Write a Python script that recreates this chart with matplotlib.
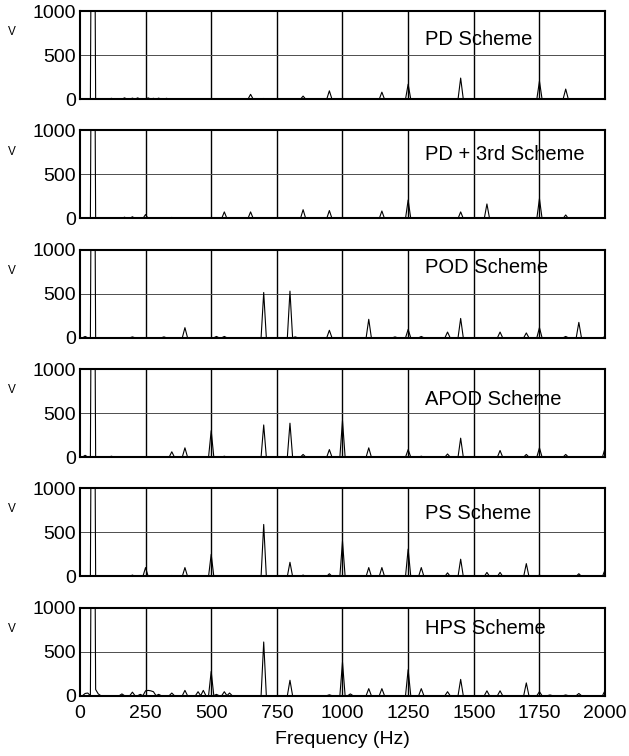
import numpy as np
import matplotlib.pyplot as plt

plt.rcParams['font.family'] = ['Liberation Sans', 'DejaVu Sans']

# spectrum bins (Hz) and peak readings per modulation scheme
freq_step = 10
freq_max = 2000

schemes = ['PD Scheme', 'PD + 3rd Scheme', 'POD Scheme', 'APOD Scheme', 'PS Scheme', 'HPS Scheme']

pd_f = [50, 120, 170, 200, 220, 260, 280, 300, 330, 650, 700, 850, 950, 1150, 1250, 1450, 1750, 1850]
pd_a = [6000, 10, 15, 12, 15, 15, 10, 12, 10, 55, 8, 35, 95, 80, 170, 240, 205, 115]

pd3_f = [50, 170, 200, 250, 300, 350, 550, 650, 850, 950, 1080, 1150, 1250, 1450, 1550, 1750, 1850]
pd3_a = [6000, 15, 20, 45, 10, 12, 75, 75, 100, 90, 5, 85, 210, 75, 165, 225, 40]

pod_f = [20, 50, 200, 320, 400, 520, 550, 700, 800, 820, 950, 1100, 1200, 1250, 1300, 1400, 1450, 1600,
         1700, 1750, 1850, 1900, 2000]
pod_a = [15, 6000, 10, 10, 115, 15, 15, 515, 530, 10, 85, 210, 10, 95, 15, 65, 220, 65,
         55, 115, 15, 175, 15]

apod_f = [20, 50, 120, 350, 400, 500, 550, 700, 800, 850, 950, 1000, 1100, 1250, 1300, 1400, 1450, 1600,
          1700, 1750, 1850, 2000]
apod_a = [20, 6000, 10, 60, 105, 300, 10, 365, 385, 30, 85, 415, 105, 85, 10, 35, 215, 75,
          30, 105, 30, 105]

ps_f = [20, 50, 200, 250, 300, 350, 400, 500, 700, 800, 850, 950, 1000, 1100, 1150, 1250, 1300, 1350,
        1400, 1450, 1550, 1600, 1700, 1750, 1850, 1900, 2000]
ps_a = [10, 6000, 15, 100, 10, 10, 100, 250, 590, 160, 15, 30, 400, 100, 100, 310, 100, 5,
        40, 195, 45, 45, 145, 15, 5, 30, 75]

hps_f = [20, 30, 50, 60, 70, 160, 200, 230, 250, 260, 270, 280, 300, 350, 400, 450, 470, 500, 520, 550,
         570, 700, 800, 950, 1000, 1030, 1100, 1150, 1250, 1300, 1400, 1450, 1550, 1600, 1700, 1750,
         1790, 1850, 1900, 2000]
hps_a = [25, 30, 6000, 70, 20, 20, 40, 15, 55, 60, 55, 45, 15, 30, 60, 45, 60, 275, 15, 45,
         30, 610, 175, 10, 380, 20, 80, 80, 295, 80, 45, 185, 55, 55, 145, 45,
         8, 8, 25, 60]

peak_freqs = [pd_f, pd3_f, pod_f, apod_f, ps_f, hps_f]
peak_amps = [pd_a, pd3_a, pod_a, apod_a, ps_a, hps_a]

# text placement inside each panel (axes fraction)
label_y = [0.68, 0.73, 0.80, 0.65, 0.72, 0.765]

freq = np.arange(0, freq_max + freq_step, freq_step)

fig = plt.figure(figsize=(6.29, 7.56), dpi=100)

left = 0.127
width = 0.835
height = 0.1164
step = 0.1578

for i, name in enumerate(schemes):
    bottom = 0.0798 + (5 - i) * step
    ax = fig.add_axes([left, bottom, width, height])

    amp = np.zeros(len(freq))
    for f, a in zip(peak_freqs[i], peak_amps[i]):
        amp[int(round(f / freq_step))] = a

    ax.plot(freq, amp, color='black', lw=0.8, zorder=3)
    ax.set_xlim(0, 2000)
    ax.set_ylim(0, 1000)
    ax.set_xticks(np.arange(0, 2001, 250))
    ax.set_yticks([0, 500, 1000])

    for x in np.arange(250, 2000, 250):
        ax.axvline(x, color='black', lw=1.0, zorder=1)
    ax.axhline(500, color='0.3', lw=0.7, zorder=1)

    for s in ax.spines.values():
        s.set_linewidth(1.5)
        s.set_zorder(4)

    ax.tick_params(direction='in', length=0, labelsize=14)
    ax.tick_params(axis='y', pad=3)
    ax.tick_params(axis='x', pad=7)
    if i < 5:
        ax.set_xticklabels([])
    else:
        ax.set_xlabel('Frequency (Hz)', fontsize=14, labelpad=6)

    ax.text(1314, label_y[i] * 1000, name, fontsize=14.5, va='center', ha='left', zorder=5)
    fig.text(0.0195, bottom + 0.76 * height, 'V', fontsize=8.5, va='center', ha='center')

fig.savefig('out.png', dpi=100)
